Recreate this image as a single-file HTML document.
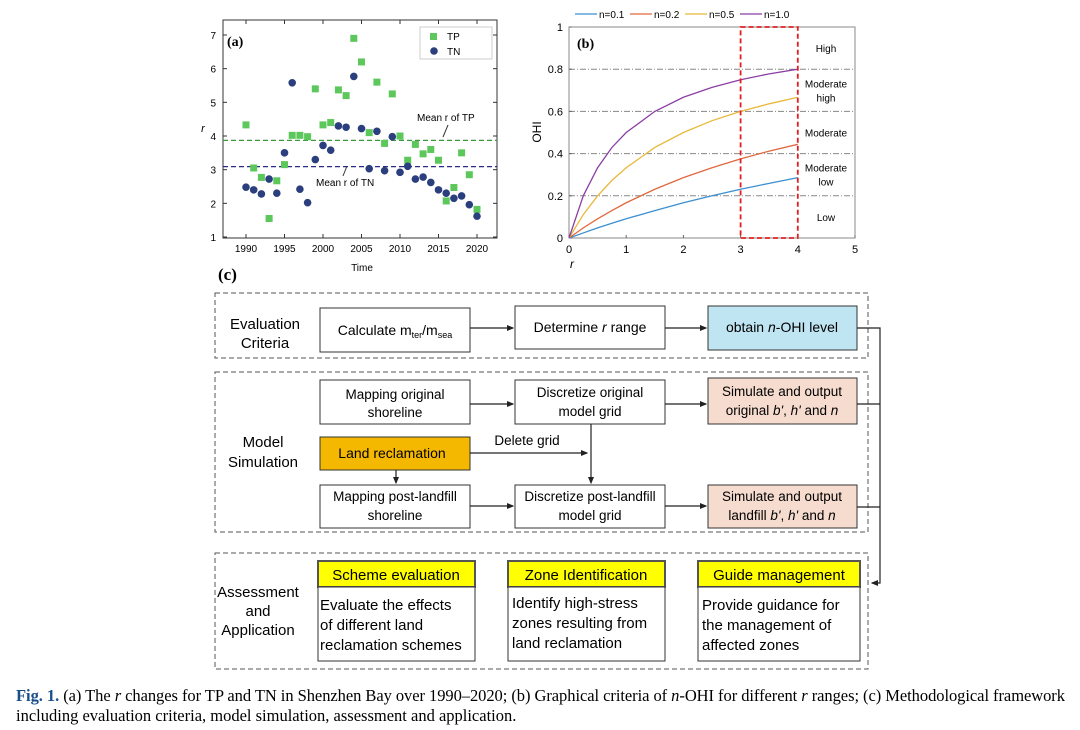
<!DOCTYPE html>
<html><head><meta charset="utf-8"><style>
body{margin:0;background:#fff;}
svg{display:block;font-family:"Liberation Sans",sans-serif;}
</style></head><body>
<svg id="fig" width="1080" height="730" viewBox="0 0 1080 730">
<g id="chartA"></g>
<g id="chartB"></g>
<g id="flow">
<text x="218" y="280" font-family="Liberation Serif" font-weight="bold" font-size="17">(c)</text>
<rect x="215" y="293" width="653" height="65" fill="none" stroke="#555" stroke-dasharray="5,3"/>
<text x="265" y="329" font-size="15" text-anchor="middle"><tspan x="265">Evaluation</tspan><tspan x="265" dy="19">Criteria</tspan></text>
<rect x="320" y="308" width="150" height="44" fill="#fff" stroke="#333"/>
<text x="395" y="335" font-size="14" text-anchor="middle">Calculate m<tspan font-size="9" dy="3">ter</tspan><tspan dy="-3">/m</tspan><tspan font-size="9" dy="3">sea</tspan></text>
<rect x="515" y="306" width="150" height="43" fill="#fff" stroke="#333"/>
<text x="590" y="332" font-size="14" text-anchor="middle">Determine <tspan font-style="italic">r</tspan> range</text>
<rect x="708" y="306" width="149" height="44" fill="#bfe4f2" stroke="#333"/>
<text x="782" y="332" font-size="14" text-anchor="middle">obtain <tspan font-style="italic">n</tspan>-OHI level</text>
<rect x="215" y="372" width="653" height="160" fill="none" stroke="#555" stroke-dasharray="5,3"/>
<text x="263" y="447" font-size="15" text-anchor="middle"><tspan x="263">Model</tspan><tspan x="263" dy="20">Simulation</tspan></text>
<rect x="320" y="380" width="150" height="44" fill="#fff" stroke="#333"/>
<text x="395" y="399" font-size="13.5" text-anchor="middle"><tspan x="395">Mapping original</tspan><tspan x="395" dy="18">shoreline</tspan></text>
<rect x="515" y="380" width="150" height="44" fill="#fff" stroke="#333"/>
<text x="590" y="397" font-size="13.5" text-anchor="middle"><tspan x="590">Discretize original</tspan><tspan x="590" dy="19">model grid</tspan></text>
<rect x="708" y="378" width="149" height="46" fill="#f6dccf" stroke="#333"/>
<text x="782" y="396" font-size="13.5" text-anchor="middle"><tspan x="782">Simulate and output</tspan><tspan x="782" dy="19">original <tspan font-style="italic">b'</tspan>, <tspan font-style="italic">h'</tspan> and <tspan font-style="italic">n</tspan></tspan></text>
<rect x="320" y="437" width="150" height="33" fill="#f5b800" stroke="#333"/>
<text x="392" y="458" font-size="14" text-anchor="middle">Land reclamation</text>
<text x="527" y="445" font-size="13.5" text-anchor="middle">Delete grid</text>
<rect x="320" y="485" width="150" height="43" fill="#fff" stroke="#333"/>
<text x="395" y="501" font-size="13.5" text-anchor="middle"><tspan x="395">Mapping post-landfill</tspan><tspan x="395" dy="19">shoreline</tspan></text>
<rect x="515" y="485" width="150" height="43" fill="#fff" stroke="#333"/>
<text x="590" y="501" font-size="13.5" text-anchor="middle"><tspan x="590">Discretize post-landfill</tspan><tspan x="590" dy="19">model grid</tspan></text>
<rect x="708" y="485" width="149" height="43" fill="#f6dccf" stroke="#333"/>
<text x="782" y="501" font-size="13.5" text-anchor="middle"><tspan x="782">Simulate and output</tspan><tspan x="782" dy="19">landfill <tspan font-style="italic">b'</tspan>, <tspan font-style="italic">h'</tspan> and <tspan font-style="italic">n</tspan></tspan></text>
<defs><marker id="ah" markerWidth="6" markerHeight="6" refX="5" refY="3" orient="auto"><path d="M0,0.5 L6,3 L0,5.5 Z" fill="#222"/></marker></defs>
<g stroke="#222" stroke-width="1.2" fill="none">
<line x1="470" y1="328" x2="513" y2="328" marker-end="url(#ah)"/>
<line x1="665" y1="328" x2="706" y2="328" marker-end="url(#ah)"/>
<line x1="470" y1="404" x2="513" y2="404" marker-end="url(#ah)"/>
<line x1="665" y1="404" x2="706" y2="404" marker-end="url(#ah)"/>
<line x1="470" y1="506" x2="513" y2="506" marker-end="url(#ah)"/>
<line x1="665" y1="506" x2="706" y2="506" marker-end="url(#ah)"/>
<line x1="470" y1="453" x2="587" y2="453" marker-end="url(#ah)"/>
<line x1="591" y1="424" x2="591" y2="483" marker-end="url(#ah)"/>
<line x1="396" y1="470" x2="396" y2="483" marker-end="url(#ah)"/>
<polyline points="857,328 880,328 880,583 872,583" marker-end="url(#ah)"/>
<line x1="857" y1="404" x2="880" y2="404"/>
<line x1="857" y1="507" x2="880" y2="507"/>
</g>
<rect x="215" y="553" width="653" height="116" fill="none" stroke="#555" stroke-dasharray="5,3"/>
<text x="258" y="597" font-size="15" text-anchor="middle"><tspan x="258">Assessment</tspan><tspan x="258" dy="19">and</tspan><tspan x="258" dy="19">Application</tspan></text>
<g>
<rect x="318" y="561" width="157" height="26" fill="#ffff00" stroke="#555" stroke-width="2"/>
<text x="396" y="580" font-size="15" text-anchor="middle">Scheme evaluation</text>
<rect x="318" y="587" width="157" height="74" fill="#fff" stroke="#333"/>
<text x="320" y="610" font-size="15"><tspan x="320">Evaluate the effects</tspan><tspan x="320" dy="20">of different land</tspan><tspan x="320" dy="20">reclamation schemes</tspan></text>
</g>
<g>
<rect x="508" y="561" width="157" height="26" fill="#ffff00" stroke="#555" stroke-width="2"/>
<text x="586" y="580" font-size="15" text-anchor="middle">Zone Identification</text>
<rect x="508" y="587" width="157" height="74" fill="#fff" stroke="#333"/>
<text x="512" y="608" font-size="15"><tspan x="512">Identify high-stress</tspan><tspan x="512" dy="20">zones resulting from</tspan><tspan x="512" dy="20">land reclamation</tspan></text>
</g>
<g>
<rect x="698" y="561" width="162" height="26" fill="#ffff00" stroke="#555" stroke-width="2"/>
<text x="779" y="580" font-size="15" text-anchor="middle">Guide management</text>
<rect x="698" y="587" width="162" height="74" fill="#fff" stroke="#333"/>
<text x="702" y="610" font-size="15"><tspan x="702">Provide guidance for</tspan><tspan x="702" dy="20">the management of</tspan><tspan x="702" dy="20">affected zones</tspan></text>
</g>
</g>
<text x="16" y="701" font-family="Liberation Serif" font-size="16.5" textLength="1049" lengthAdjust="spacing"><tspan font-weight="bold" fill="#1a4f8a">Fig. 1.</tspan> (a) The <tspan font-style="italic">r</tspan> changes for TP and TN in Shenzhen Bay over 1990–2020; (b) Graphical criteria of <tspan font-style="italic">n</tspan>-OHI for different <tspan font-style="italic">r</tspan> ranges; (c) Methodological framework</text>
<text x="16" y="721" font-family="Liberation Serif" font-size="16.5">including evaluation criteria, model simulation, assessment and application.</text>
</svg>
<script>
const years=[1990,1991,1992,1993,1994,1995,1996,1997,1998,1999,2000,2001,2002,2003,2004,2005,2006,2007,2008,2009,2010,2011,2012,2013,2014,2015,2016,2017,2018,2019,2020];
const tpValues=[4.33,3.05,2.77,1.55,2.67,3.15,4.02,4.02,3.98,5.4,4.33,4.4,5.37,5.2,6.9,6.2,4.1,5.6,3.78,5.25,4.0,3.28,3.75,3.47,3.6,3.28,2.07,2.47,3.5,2.85,1.82];
const tnValues=[2.48,2.4,2.28,2.72,2.3,3.5,5.58,2.42,2.02,3.3,3.72,3.58,4.3,4.26,5.77,4.22,3.03,4.14,2.97,3.98,2.92,3.1,2.72,2.78,2.62,2.4,2.3,2.15,2.22,1.96,1.62];
const meanTP=3.87, meanTN=3.09;
const xTicksA=[1990,1995,2000,2005,2010,2015,2020];
const yTicksA=[1,2,3,4,5,6,7];
const rValues=[0,0.25,0.5,0.75,1,1.5,2,2.5,3,3.5,4];
const n01=[0,0.024,0.048,0.07,0.091,0.13,0.167,0.2,0.231,0.259,0.286];
const n02=[0,0.048,0.091,0.13,0.167,0.231,0.286,0.333,0.375,0.412,0.444];
const n05=[0,0.111,0.2,0.273,0.333,0.429,0.5,0.556,0.6,0.636,0.667];
const n10=[0,0.2,0.333,0.429,0.5,0.6,0.667,0.714,0.75,0.778,0.8];
const seriesB=[["n=0.1",n01,"#3b8fd1"],["n=0.2",n02,"#e0683e"],["n=0.5",n05,"#e8b83a"],["n=1.0",n10,"#8b3fa3"]];
const xTicksB=[0,1,2,3,4,5];
const yTicksB=[0,0.2,0.4,0.6,0.8,1];
const levels=[["High",0.9],["Moderate|high",0.7],["Moderate",0.5],["Moderate|low",0.3],["Low",0.1]];
const NS="http://www.w3.org/2000/svg";
function mk(parent,tag,attrs,text){const e=document.createElementNS(NS,tag);for(const k in attrs)e.setAttribute(k,attrs[k]);if(text!==undefined)e.textContent=text;parent.appendChild(e);return e;}
const A=document.getElementById('chartA');
const ax=y=>246+(y-1990)*(477-246)/30, ay=v=>237-(v-1)*(237-35)/6;
let e=mk(A,'rect',{x:223,y:20,width:274,height:218,fill:'#fff',stroke:'#333'});


xTicksA.forEach(t=>{mk(A,'line',{x1:ax(t),x2:ax(t),y1:238,y2:234,stroke:'#333'});mk(A,'line',{x1:ax(t),x2:ax(t),y1:20,y2:24,stroke:'#333'});
e=mk(A,'text',{x:ax(t),y:252,'font-size':10,'text-anchor':'middle'},t);

});
yTicksA.forEach(t=>{mk(A,'line',{x1:223,x2:227,y1:ay(t),y2:ay(t),stroke:'#333'});mk(A,'line',{x1:497,x2:493,y1:ay(t),y2:ay(t),stroke:'#333'});
e=mk(A,'text',{x:216,y:ay(t)+4,'font-size':10,'text-anchor':'end'},t);

});
e=mk(A,'text',{x:362,y:271,'font-size':10,'text-anchor':'middle'},'Time');


e=mk(A,'text',{x:203,y:132,'font-size':11,'font-style':'italic','text-anchor':'middle'},'r');


e=mk(A,'line',{x1:223,x2:497,y1:ay(meanTP),y2:ay(meanTP),stroke:'#3a9a3a','stroke-dasharray':'5,3','stroke-width':1.2});


e=mk(A,'line',{x1:223,x2:497,y1:ay(meanTN),y2:ay(meanTN),stroke:'#2a2a8a','stroke-dasharray':'5,3','stroke-width':1.2});


years.forEach((y,i)=>{e=mk(A,'rect',{x:ax(y)-3.5,y:ay(tpValues[i])-3.5,width:7,height:7,fill:'#5cc85c'});

});
years.forEach((y,i)=>{e=mk(A,'circle',{cx:ax(y),cy:ay(tnValues[i]),r:3.8,fill:'#2b3f7e'});

});
e=mk(A,'text',{x:227,y:46,'font-size':14,'font-weight':'bold','font-family':'Liberation Serif'},'(a)');


e=mk(A,'text',{x:417,y:121,'font-size':10},'Mean r of TP');


e=mk(A,'text',{x:316,y:186,'font-size':10},'Mean r of TN');


mk(A,'line',{x1:448,y1:125,x2:443,y2:137,stroke:'#333'});
mk(A,'line',{x1:343,y1:176,x2:347,y2:166,stroke:'#333'});
const lg=mk(A,'g',{});


mk(lg,'rect',{x:420,y:27,width:72,height:32,fill:'#fff',stroke:'#ccc'});
mk(lg,'rect',{x:430,y:33,width:7,height:7,fill:'#5cc85c'});
mk(lg,'text',{x:447,y:40,'font-size':10},'TP');
mk(lg,'circle',{cx:434,cy:51,r:3.8,fill:'#2b3f7e'});
mk(lg,'text',{x:447,y:55,'font-size':10},'TN');
const B=document.getElementById('chartB');
const bx=r=>569+r*(855-569)/5, by=v=>238-v*(238-27);
e=mk(B,'rect',{x:569,y:27,width:286,height:211,fill:'#fff',stroke:'#888'});


[0.2,0.4,0.6,0.8].forEach(v=>{e=mk(B,'line',{x1:569,x2:855,y1:by(v),y2:by(v),stroke:'#888','stroke-dasharray':'6,2,1,2'});

});
xTicksB.forEach(t=>{mk(B,'line',{x1:bx(t),x2:bx(t),y1:238,y2:235,stroke:'#666'});
e=mk(B,'text',{x:bx(t),y:253,'font-size':11,'text-anchor':'middle'},t);

});
yTicksB.forEach(t=>{mk(B,'line',{x1:569,x2:572,y1:by(t),y2:by(t),stroke:'#666'});
e=mk(B,'text',{x:563,y:by(t)+4,'font-size':11,'text-anchor':'end'},t);

});
e=mk(B,'text',{x:570,y:268,'font-size':12,'font-style':'italic'},'r');


e=mk(B,'text',{x:0,y:0,'font-size':12,'text-anchor':'middle',transform:'translate(541,132) rotate(-90)'},'OHI');


seriesB.forEach(s=>{e=mk(B,'polyline',{points:rValues.map((r,i)=>bx(r)+','+by(s[1][i])).join(' '),fill:'none',stroke:s[2],'stroke-width':1.3});

});
e=mk(B,'rect',{x:bx(3),y:by(1),width:bx(4)-bx(3),height:by(0)-by(1),fill:'none',stroke:'#e02020','stroke-width':1.8,'stroke-dasharray':'5,3'});


levels.forEach(l=>{const parts=l[0].split('|');const t=mk(B,'text',{x:826,y:by(l[1])+(parts.length>1?-3:4),'font-size':10,'text-anchor':'middle'});
parts.forEach((p,i)=>mk(t,'tspan',{x:826,dy:i?14:0},p));

});
e=mk(B,'text',{x:577,y:48,'font-size':14,'font-weight':'bold','font-family':'Liberation Serif'},'(b)');


const lgb=mk(B,'g',{});


seriesB.forEach((s,i)=>{const x0=575+i*55;mk(lgb,'line',{x1:x0,x2:x0+22,y1:14,y2:14,stroke:s[2],'stroke-width':1.3});mk(lgb,'text',{x:x0+24,y:18,'font-size':10},s[0]);});
</script>
</body></html>
